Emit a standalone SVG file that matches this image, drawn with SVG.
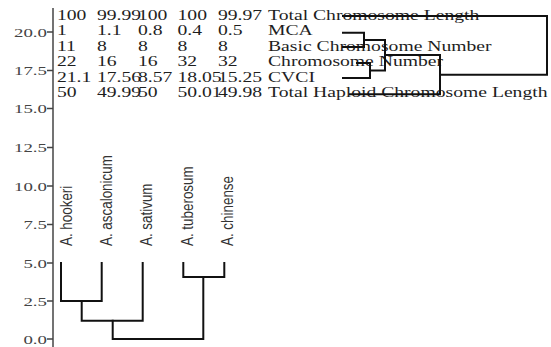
<svg xmlns="http://www.w3.org/2000/svg" width="551" height="347" viewBox="0 0 551 347">
  <style>
    .tbl { font-family: "Liberation Serif", "Times New Roman", serif; font-size: 15px; fill: #1e1e1e; }
    .ax { font-family: "Liberation Serif", "Times New Roman", serif; font-size: 13px; fill: #444; text-anchor: end; }
    .sp { font-family: "Liberation Sans", Arial, sans-serif; font-size: 13.4px; fill: #333; }
    .axis { stroke: #444; stroke-width: 1.5; fill: none; }
    .link { stroke: #111; stroke-width: 2; fill: none; stroke-linecap: square; }
  </style>
  <rect width="551" height="347" fill="#fff"/>

  <!-- vertical scale -->
  <g id="axis">
    <line class="axis" x1="53" y1="8" x2="53" y2="347"/>
    <path class="axis" d="M47 32H53M47 70.5H53M47 108.5H53M47 147.5H53M47 186H53M47 224.5H53M47 263H53M47 301H53M47 339H53"/>
    <g class="ax">
      <text transform="translate(47,36.5) scale(1.45,1)">20.0</text>
      <text transform="translate(47,75) scale(1.45,1)">17.5</text>
      <text transform="translate(47,113) scale(1.45,1)">15.0</text>
      <text transform="translate(47,152) scale(1.45,1)">12.5</text>
      <text transform="translate(47,190.5) scale(1.45,1)">10.0</text>
      <text transform="translate(47,229) scale(1.45,1)">7.5</text>
      <text transform="translate(47,267.5) scale(1.45,1)">5.0</text>
      <text transform="translate(47,305.5) scale(1.45,1)">2.5</text>
      <text transform="translate(47,343.5) scale(1.45,1)">0.0</text>
    </g>
  </g>

  <!-- value table, one row per variable -->
  <g class="tbl" transform="scale(1.31,1)">
    <g id="row-total-length">
      <text y="20"><tspan x="43.5">100</tspan><tspan x="74">99.99</tspan><tspan x="105.3">100</tspan><tspan x="135.5">100</tspan><tspan x="166.4">99.97</tspan><tspan x="204.6">Total Chromosome Length</tspan></text>
    </g>
    <g id="row-mca">
      <text y="35.5"><tspan x="43.5">1</tspan><tspan x="74">1.1</tspan><tspan x="105.3">0.8</tspan><tspan x="135.5">0.4</tspan><tspan x="166.4">0.5</tspan><tspan x="204.6">MCA</tspan></text>
    </g>
    <g id="row-basic-number">
      <text y="51"><tspan x="43.5">11</tspan><tspan x="74">8</tspan><tspan x="105.3">8</tspan><tspan x="135.5">8</tspan><tspan x="166.4">8</tspan><tspan x="204.6">Basic Chromosome Number</tspan></text>
    </g>
    <g id="row-chromosome-number">
      <text y="66.5"><tspan x="43.5">22</tspan><tspan x="74">16</tspan><tspan x="105.3">16</tspan><tspan x="135.5">32</tspan><tspan x="166.4">32</tspan><tspan x="204.6">Chromosome Number</tspan></text>
    </g>
    <g id="row-cvci">
      <text y="82"><tspan x="43.5">21.1</tspan><tspan x="74">17.56</tspan><tspan x="105.3">8.57</tspan><tspan x="135.5">18.05</tspan><tspan x="166.4">15.25</tspan><tspan x="204.6">CVCI</tspan></text>
    </g>
    <g id="row-haploid-length">
      <text y="97.5"><tspan x="43.5">50</tspan><tspan x="74">49.99</tspan><tspan x="105.3">50</tspan><tspan x="135.5">50.01</tspan><tspan x="166.4">49.98</tspan><tspan x="204.6">Total Haploid Chromosome Length</tspan></text>
    </g>
  </g>

  <!-- species leaves -->
  <g class="sp">
    <g id="sp-hookeri"><text transform="translate(71.5,246) scale(1.3,1) rotate(-90)">A. hookeri</text></g>
    <g id="sp-ascalonicum"><text transform="translate(111.5,246) scale(1.3,1) rotate(-90)">A. ascalonicum</text></g>
    <g id="sp-sativum"><text transform="translate(152,246) scale(1.3,1) rotate(-90)">A. sativum</text></g>
    <g id="sp-tuberosum"><text transform="translate(193,246) scale(1.3,1) rotate(-90)">A. tuberosum</text></g>
    <g id="sp-chinense"><text transform="translate(233,246) scale(1.3,1) rotate(-90)">A. chinense</text></g>
  </g>

  <!-- dendrogram links -->
  <g id="connectors">
    <!-- species tree -->
    <path class="link" d="M61 263V301H101.7V263"/>
    <path class="link" d="M81.7 301V320.7H142.7V263"/>
    <path class="link" d="M183.3 263V277H224.3V263"/>
    <path class="link" d="M112.7 320.7V339H203.3V277"/>
    <!-- variable tree -->
    <path class="link" d="M343 32.7H364V47H343"/>
    <path class="link" d="M357 63H370V78H343"/>
    <path class="link" d="M364 40H385V70.5H370"/>
    <path class="link" d="M385 55H440V94.3H350"/>
    <path class="link" d="M343 16H547V74.7H440"/>
  </g>
</svg>
